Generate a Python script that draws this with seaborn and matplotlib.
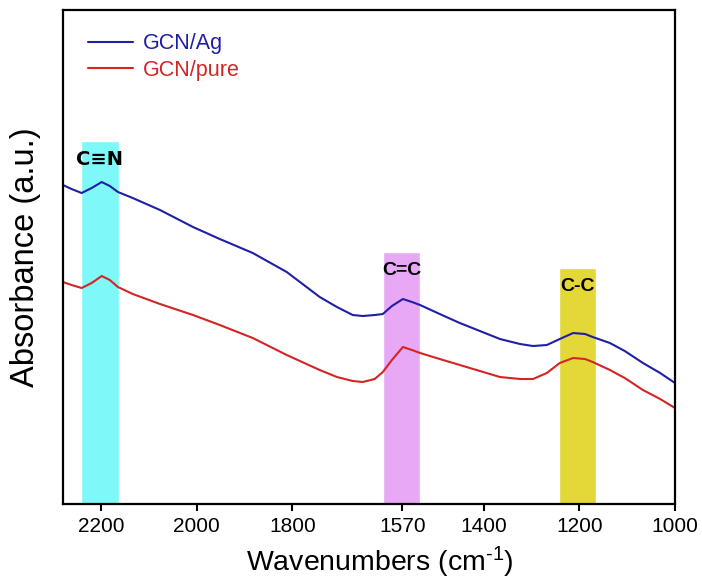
import numpy as np
import pandas as pd
import seaborn as sns
import matplotlib.pyplot as plt

# wavenumbers (cm-1)
wavenumber = [2280, 2262, 2241, 2220, 2199, 2182, 2165, 2134, 2077, 2008,
              1952, 1883, 1812, 1743, 1707, 1674, 1653, 1628, 1611, 1592,
              1569, 1550, 1533, 1492, 1450, 1408, 1366, 1324, 1297, 1268,
              1241, 1213, 1188, 1172, 1136, 1105, 1067, 1031, 1000]

gcn_ag = [3.19, 3.15, 3.11, 3.16, 3.22, 3.18, 3.12, 3.06, 2.94, 2.77,
          2.65, 2.51, 2.32, 2.07, 1.97, 1.89, 1.88, 1.89, 1.90, 1.98,
          2.05, 2.02, 1.99, 1.90, 1.81, 1.73, 1.65, 1.60, 1.58, 1.59,
          1.65, 1.71, 1.70, 1.67, 1.61, 1.53, 1.41, 1.31, 1.21]

gcn_pure = [2.22, 2.19, 2.16, 2.21, 2.28, 2.24, 2.17, 2.10, 2.00, 1.89,
            1.79, 1.66, 1.49, 1.34, 1.27, 1.23, 1.22, 1.25, 1.32, 1.44,
            1.57, 1.54, 1.51, 1.45, 1.39, 1.33, 1.27, 1.25, 1.25, 1.31,
            1.41, 1.46, 1.45, 1.42, 1.34, 1.26, 1.14, 1.05, 0.96]

# highlighted bands
band_labels = ["C\u2261N", "C=C", "C-C"]
band_center = [2203, 1572, 1204]
band_width = [80, 78, 78]
band_top = [3.63, 2.52, 2.36]
band_colors = ["#7ef8f8", "#e8a8f6", "#e4d838"]

xticks = [2200, 2000, 1800, 1570, 1400, 1200, 1000]

df = pd.DataFrame({
    "wavenumber": wavenumber * 2,
    "absorbance": gcn_ag + gcn_pure,
    "sample": ["GCN/Ag"] * len(gcn_ag) + ["GCN/pure"] * len(gcn_pure),
})

sns.set_style("white")
plt.rcParams["font.family"] = ["Liberation Sans", "DejaVu Sans"]
plt.rcParams.update({
    "text.color": "black",
    "axes.labelcolor": "black",
    "xtick.color": "black",
    "mathtext.fontset": "custom",
    "mathtext.rm": "Liberation Sans",
    "mathtext.default": "regular",
})

fig = plt.figure(figsize=(7.02, 5.83), dpi=100)
ax = fig.add_axes([0.0897, 0.1355, 0.8718, 0.8473])

ax.bar(band_center, band_top, width=band_width, color=band_colors, zorder=1)
for lab, xc, top in zip(band_labels, band_center, band_top):
    ax.text(xc, top - 0.18, lab, ha="center", va="center",
            fontsize=14, fontweight="bold", zorder=3, color="black",
            family=["DejaVu Sans"] if lab == "C\u2261N" else None)

palette = {"GCN/Ag": "#1f1fa6", "GCN/pure": "#d42424"}
sns.lineplot(data=df, x="wavenumber", y="absorbance", hue="sample",
             hue_order=["GCN/Ag", "GCN/pure"], palette=palette,
             linewidth=1.5, ax=ax, zorder=2, sort=False)

ax.set_xlim(2280, 1000)
ax.set_ylim(0, 4.94)
ax.set_xticks(xticks)
ax.set_yticks([])
ax.tick_params(axis="x", direction="out", length=5, width=1.5,
               labelsize=15, pad=4, bottom=True)
for s in ax.spines.values():
    s.set_linewidth(1.6)
    s.set_color("black")

ax.set_xlabel("Wavenumbers (cm$^{\u2010 1}$)", fontsize=20.5)
ax.xaxis.set_label_coords(0.517, -0.083, transform=ax.transAxes)
ax.xaxis.label.set_va("top")
ax.set_ylabel("Absorbance (a.u.)", fontsize=23.5, labelpad=16)

leg = ax.legend(loc="upper left", frameon=False, fontsize=15.5,
                handlelength=2.1, handletextpad=0.45, labelspacing=0.24,
                bbox_to_anchor=(0.009, 0.992))
for txt, line in zip(leg.get_texts(), leg.get_lines()):
    txt.set_color(line.get_color())

fig.savefig("out.png", dpi=100)
